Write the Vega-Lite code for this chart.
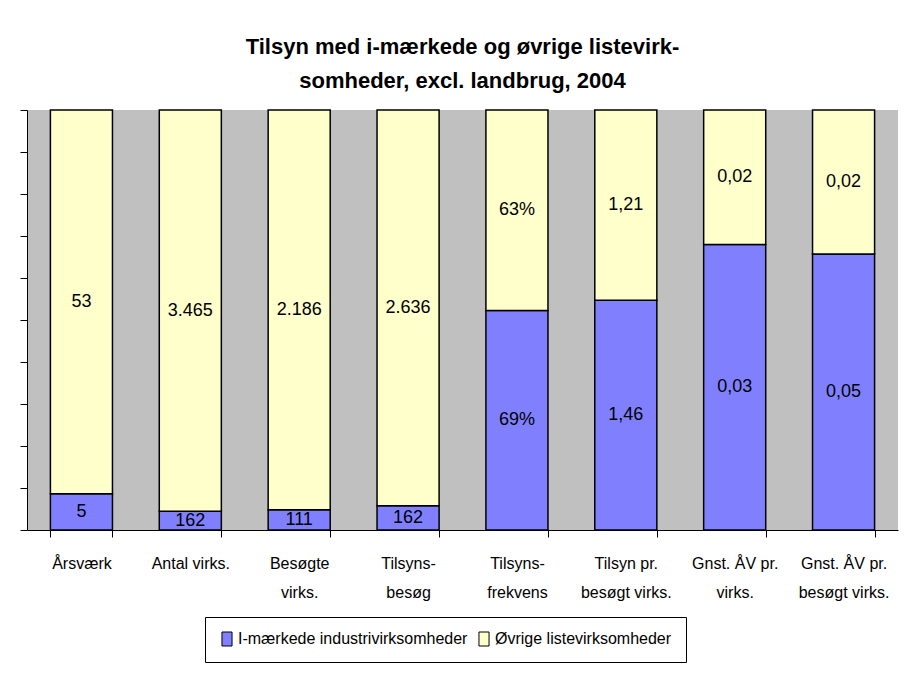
{
  "$schema": "https://vega.github.io/schema/vega-lite/v6.json",
  "width": 871,
  "height": 420,
  "autosize": "none",
  "padding": {"left": 27, "top": 110, "right": 6, "bottom": 148},
  "background": "white",
  "title": {
    "text": ["Tilsyn med i-mærkede og øvrige listevirk-", "somheder, excl. landbrug, 2004"],
    "font": "Liberation Sans",
    "fontSize": 22,
    "fontWeight": "bold",
    "color": "black",
    "lineHeight": 34,
    "anchor": "middle",
    "offset": 16
  },
  "config": {
    "view": {"fill": "#c0c0c0", "stroke": null},
    "font": "Liberation Sans"
  },
  "data": {
    "values": [
      {"category": "Årsværk", "series": "I-mærkede industrivirksomheder", "value": 5, "label": "5"},
      {"category": "Årsværk", "series": "Øvrige listevirksomheder", "value": 53, "label": "53"},
      {"category": "Antal virks.", "series": "I-mærkede industrivirksomheder", "value": 162, "label": "162"},
      {"category": "Antal virks.", "series": "Øvrige listevirksomheder", "value": 3465, "label": "3.465"},
      {"category": "Besøgte virks.", "series": "I-mærkede industrivirksomheder", "value": 111, "label": "111"},
      {"category": "Besøgte virks.", "series": "Øvrige listevirksomheder", "value": 2186, "label": "2.186"},
      {"category": "Tilsynsbesøg", "series": "I-mærkede industrivirksomheder", "value": 162, "label": "162"},
      {"category": "Tilsynsbesøg", "series": "Øvrige listevirksomheder", "value": 2636, "label": "2.636"},
      {"category": "Tilsynsfrekvens", "series": "I-mærkede industrivirksomheder", "value": 69, "label": "69%"},
      {"category": "Tilsynsfrekvens", "series": "Øvrige listevirksomheder", "value": 63, "label": "63%"},
      {"category": "Tilsyn pr. besøgt virks.", "series": "I-mærkede industrivirksomheder", "value": 1.46, "label": "1,46"},
      {"category": "Tilsyn pr. besøgt virks.", "series": "Øvrige listevirksomheder", "value": 1.21, "label": "1,21"},
      {"category": "Gnst. ÅV pr. virks.", "series": "I-mærkede industrivirksomheder", "value": 0.034, "label": "0,03"},
      {"category": "Gnst. ÅV pr. virks.", "series": "Øvrige listevirksomheder", "value": 0.016, "label": "0,02"},
      {"category": "Gnst. ÅV pr. besøgt virks.", "series": "I-mærkede industrivirksomheder", "value": 0.046, "label": "0,05"},
      {"category": "Gnst. ÅV pr. besøgt virks.", "series": "Øvrige listevirksomheder", "value": 0.024, "label": "0,02"}
    ]
  },
  "transform": [
    {"stack": "value", "groupby": ["category"], "sort": [{"field": "series", "order": "ascending"}], "offset": "normalize", "as": ["y0", "y1"]}
  ],
  "encoding": {
    "x": {
      "field": "category",
      "type": "nominal",
      "sort": ["Årsværk", "Antal virks.", "Besøgte virks.", "Tilsynsbesøg", "Tilsynsfrekvens", "Tilsyn pr. besøgt virks.", "Gnst. ÅV pr. virks.", "Gnst. ÅV pr. besøgt virks."],
      "scale": {"paddingInner": 0.43, "paddingOuter": 0.215},
      "axis": {
        "title": null,
        "labelAngle": 0,
        "labelFont": "Liberation Sans",
        "labelFontSize": 16,
        "labelColor": "black",
        "labelLineHeight": 29,
        "labelPadding": 18,
        "labelBaseline": "top",
        "tickBand": "extent",
        "tickColor": "black",
        "tickSize": 7,
        "domainColor": "black",
        "labelExpr": "datum.value == 'Besøgte virks.' ? ['Besøgte', 'virks.'] : datum.value == 'Tilsynsbesøg' ? ['Tilsyns-', 'besøg'] : datum.value == 'Tilsynsfrekvens' ? ['Tilsyns-', 'frekvens'] : datum.value == 'Tilsyn pr. besøgt virks.' ? ['Tilsyn pr.', 'besøgt virks.'] : datum.value == 'Gnst. ÅV pr. virks.' ? ['Gnst. ÅV pr.', 'virks.'] : datum.value == 'Gnst. ÅV pr. besøgt virks.' ? ['Gnst. ÅV pr.', 'besøgt virks.'] : datum.value"
      }
    }
  },
  "layer": [
    {
      "mark": {"type": "bar", "stroke": "black", "strokeWidth": 1.5},
      "encoding": {
        "y": {
          "field": "y0",
          "type": "quantitative",
          "scale": {"domain": [0, 1], "nice": false},
          "axis": {
            "title": null,
            "labels": false,
            "grid": false,
            "values": [0, 0.1, 0.2, 0.3, 0.4, 0.5, 0.6, 0.7, 0.8, 0.9, 1],
            "tickColor": "black",
            "tickSize": 7,
            "domainColor": "black"
          }
        },
        "y2": {"field": "y1"},
        "color": {
          "field": "series",
          "type": "nominal",
          "scale": {"domain": ["I-mærkede industrivirksomheder", "Øvrige listevirksomheder"], "range": ["#8080ff", "#ffffcc"]},
          "legend": {
            "title": null,
            "orient": "none",
            "legendX": 178,
            "legendY": 507,
            "direction": "horizontal",
            "columns": 2,
            "columnPadding": 8,
            "padding": 14,
            "strokeColor": "black",
            "fillColor": "white",
            "labelFont": "Liberation Sans",
            "labelFontSize": 16,
            "labelLimit": 0,
            "labelColor": "black",
            "labelOffset": 3,
            "symbolType": "M-0.72,-1H0.72V1H-0.72Z",
            "symbolSize": 196,
            "symbolStrokeColor": "black",
            "symbolStrokeWidth": 1
          }
        }
      }
    },
    {
      "transform": [
        {"fold": ["y0", "y1"], "as": ["edge", "pos"]},
        {"aggregate": [{"op": "mean", "field": "pos", "as": "mid"}], "groupby": ["category", "series", "label"]}
      ],
      "mark": {"type": "text", "font": "Liberation Sans", "fontSize": 18, "color": "black", "baseline": "middle", "align": "center"},
      "encoding": {
        "y": {"field": "mid", "type": "quantitative"},
        "text": {"field": "label"}
      }
    }
  ]
}
